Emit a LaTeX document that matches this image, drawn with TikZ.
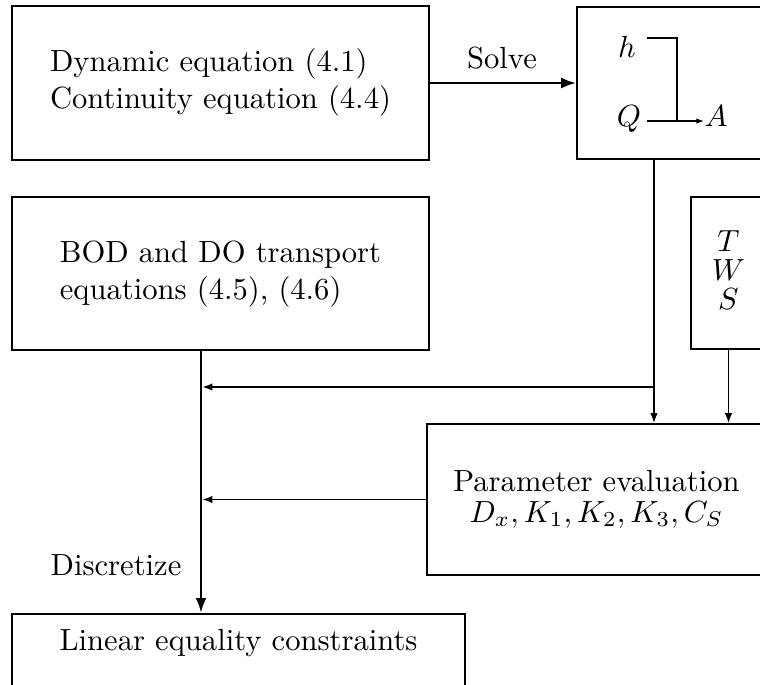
\documentclass[tikz,border=0pt]{standalone}
\usepackage{graphicx}
\usetikzlibrary{arrows.meta}

% all text is set at 10pt and enlarged as a whole
\newcommand{\magtext}[1]{\scalebox{3.06}{#1}}

\tikzset{
  heavybox/.style={draw, line width=2.8pt, inner sep=0pt},
  lightbox/.style={draw, line width=1.6pt, inner sep=0pt},
  annot/.style={inner sep=0pt, anchor=base},
  thinlink/.style={line width=1.7pt, -{Latex[length=10pt,width=7.5pt]}},
  thicklink/.style={line width=2.8pt, -{Latex[length=15pt,width=11pt]}},
  smalllink/.style={line width=1.5pt, -{Latex[length=8pt,width=5.5pt]}},
}

\begin{document}
\begin{tikzpicture}[x=1pt, y=-1pt]
  \useasboundingbox (0,0) rectangle (760,685);
  \fill[white] (0,0) rectangle (760,685);
  \clip (0,0) rectangle (760,685);

  % boxes
  \node[heavybox, minimum width=417pt, minimum height=154pt] (dyn) at (220.5,83)
    {\magtext{\begin{tabular}{@{}l@{}}Dynamic equation (4.1)\\Continuity equation (4.4)\end{tabular}}};
  \node[lightbox, minimum width=189pt, minimum height=152pt] (hyd) at (671.5,83) {};
  \node[heavybox, minimum width=417pt, minimum height=153pt] (bod) at (220.5,273.5)
    {\magtext{\begin{tabular}{@{}l@{}}BOD and DO transport\\equations (4.5), (4.6)\end{tabular}}};
  \node[lightbox, minimum width=75pt, minimum height=152pt] (tws) at (728.5,273)
    {\magtext{\begin{tabular}{@{}c@{}}$T$\\[-2.5pt]$W$\\[-2.5pt]$S$\end{tabular}}};
  \node[lightbox, minimum width=339pt, minimum height=151pt] (par) at (596.5,499.5)
    {\magtext{\begin{tabular}{@{}c@{}}Parameter evaluation\\[-2pt]$D_x, K_1, K_2, K_3, C_S$\end{tabular}}};
  \node[lightbox, minimum width=453pt, text height=37pt, text depth=53pt, anchor=north] (lin) at (238.5,613)
    {\magtext{Linear equality constraints}};

  % labels
  \node[annot] (solve) at (502,68) {\magtext{Solve}};
  \node[annot] (disc) at (116,575) {\magtext{Discretize}};

  % hydraulic variables
  \node[annot, inner xsep=11pt] (h) at (627,57) {\magtext{$h$}};
  \node[annot, inner xsep=6pt] (Q) at (629,126) {\magtext{$Q$}};
  \node[annot] (A) at (716,126) {\magtext{$A$}};
  \coordinate (hbend) at (677,38);
  \coordinate (hq) at (677,121);
  \draw[line width=1.5pt] (h.east |- hbend) -- (hbend) -- (hq);
  \draw[smalllink] (Q.east |- hq) -- (A.west |- hq);

  % connectors
  \coordinate (tap) at (654,387);
  \coordinate (drop) at (201,350);
  \draw[thicklink] (dyn.east) -- (hyd.west);
  \draw[thinlink] (hyd.south -| tap) -- (par.north -| tap);
  \draw[thinlink, shorten >=1.4pt] (tap) -- (tap -| drop);
  \draw[thinlink] (tws.south) -- (par.north -| tws.south);
  \draw[thinlink, shorten >=1.4pt] (par.west) -- (par.west -| drop);
  \draw[thicklink] (drop) -- (lin.north -| drop);
\end{tikzpicture}
\end{document}
